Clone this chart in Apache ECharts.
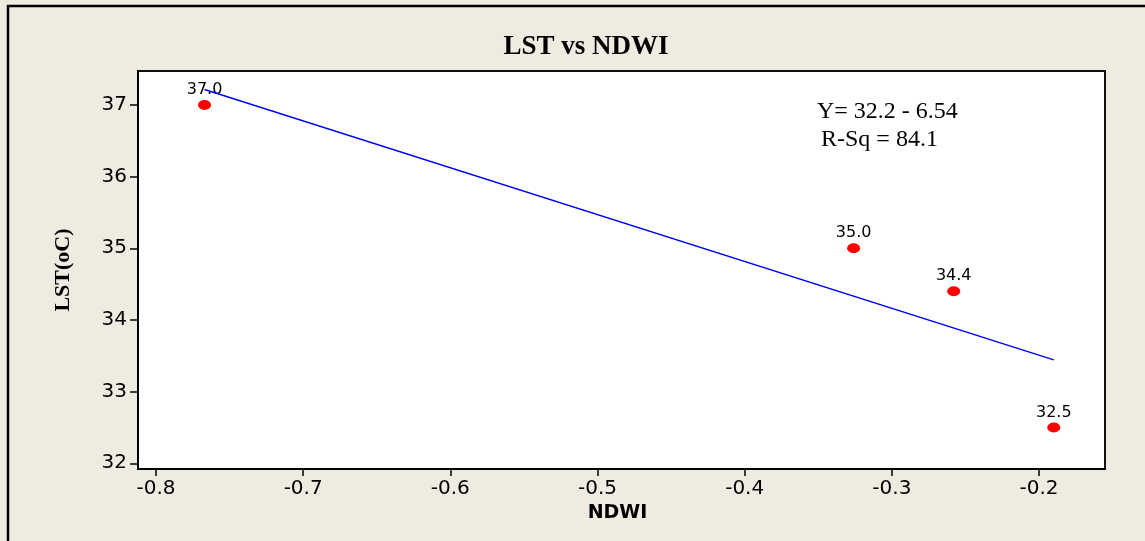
<!DOCTYPE html>
<html>
<head>
<meta charset="utf-8">
<script src="https://cdn.jsdelivr.net/npm/echarts@6/dist/echarts.min.js"></script>
<style>
  html, body { margin: 0; padding: 0; background: #EFEBE1; }
  #chart { width: 1145px; height: 541px; }
</style>
</head>
<body>
<div id="chart"></div>
<script>
// Observations: NDWI (x) against land surface temperature (y)
const ndwi = [-0.767, -0.326, -0.258, -0.190];
const lst = [37.0, 35.0, 34.4, 32.5];

// Axis tick values
const xTicks = [-0.8, -0.7, -0.6, -0.5, -0.4, -0.3, -0.2];
const yTicks = [32, 33, 34, 35, 36, 37];

// Least-squares fit reported on the chart
const fitIntercept = 32.2;
const fitSlope = -6.54;
const rSq = 84.1;

const points = ndwi.map((x, i) => [x, lst[i]]);
const xLo = Math.min(...ndwi), xHi = Math.max(...ndwi);
const fitLine = [xLo, xHi].map(x => [x, fitIntercept + fitSlope * x]);

const chart = echarts.init(document.getElementById('chart'));
chart.setOption({
  backgroundColor: '#EFEBE1',
  animation: false,
  title: {
    text: 'LST vs NDWI',
    left: 581,
    top: 29,
    textAlign: 'center',
    textStyle: { fontFamily: 'Liberation Serif', fontWeight: 'bold', fontSize: 27, color: '#000' }
  },
  grid: {
    left: 138, top: 71, right: 40, bottom: 72,
    show: true, backgroundColor: '#FFFFFF', borderColor: '#111', borderWidth: 2
  },
  xAxis: {
    type: 'value',
    min: -0.8122, max: -0.1552,
    name: 'NDWI',
    nameLocation: 'middle',
    nameGap: 33,
    nameTextStyle: { fontFamily: 'DejaVu Sans', fontWeight: 'bold', fontSize: 19, color: '#000', padding: [0, 8, 0, 0] },
    axisLine: { show: true, lineStyle: { color: '#000', width: 2 } },
    axisTick: { show: true, length: 7, customValues: xTicks, lineStyle: { color: '#000', width: 1.5 } },
    axisLabel: { customValues: xTicks, margin: 10, fontFamily: 'DejaVu Sans', fontSize: 20, color: '#000' },
    splitLine: { show: false }
  },
  yAxis: {
    type: 'value',
    min: 31.92, max: 37.474,
    name: 'LST(oC)',
    nameLocation: 'middle',
    nameGap: 64,
    nameRotate: 90,
    nameTextStyle: { fontFamily: 'Liberation Serif', fontWeight: 'bold', fontSize: 22, color: '#000' },
    axisLine: { show: true, lineStyle: { color: '#000', width: 2 } },
    axisTick: { show: true, length: 8, customValues: yTicks, lineStyle: { color: '#000', width: 1.5 } },
    axisLabel: { customValues: yTicks, margin: 11, fontFamily: 'DejaVu Sans', fontSize: 20, color: '#000' },
    splitLine: { show: false }
  },
  graphic: [
    {
      type: 'rect',
      silent: true,
      z: -10,
      shape: { x: 8, y: 6, width: 1300, height: 700 },
      style: { fill: 'none', stroke: '#000', lineWidth: 2.5 }
    },
    {
      type: 'text',
      x: 817, y: 112,
      style: {
        text: 'Y= ' + fitIntercept.toFixed(1) + ' - ' + Math.abs(fitSlope).toFixed(2),
        font: '24px "Liberation Serif"', fill: '#000', verticalAlign: 'middle'
      }
    },
    {
      type: 'text',
      x: 821, y: 140,
      style: {
        text: 'R-Sq = ' + rSq.toFixed(1),
        font: '24px "Liberation Serif"', fill: '#000', verticalAlign: 'middle'
      }
    }
  ],
  series: [
    {
      type: 'line',
      data: fitLine,
      symbol: 'none',
      lineStyle: { color: '#0000FF', width: 1.5 },
      z: 3
    },
    {
      type: 'scatter',
      data: points,
      symbol: 'circle',
      symbolSize: [13, 10],
      itemStyle: { color: '#FF0000', opacity: 1 },
      label: {
        show: true,
        position: 'top',
        distance: 2,
        formatter: p => p.value[1].toFixed(1),
        fontFamily: 'DejaVu Sans',
        fontSize: 16,
        color: '#000'
      },
      z: 2
    }
  ]
});
</script>
</body>
</html>
